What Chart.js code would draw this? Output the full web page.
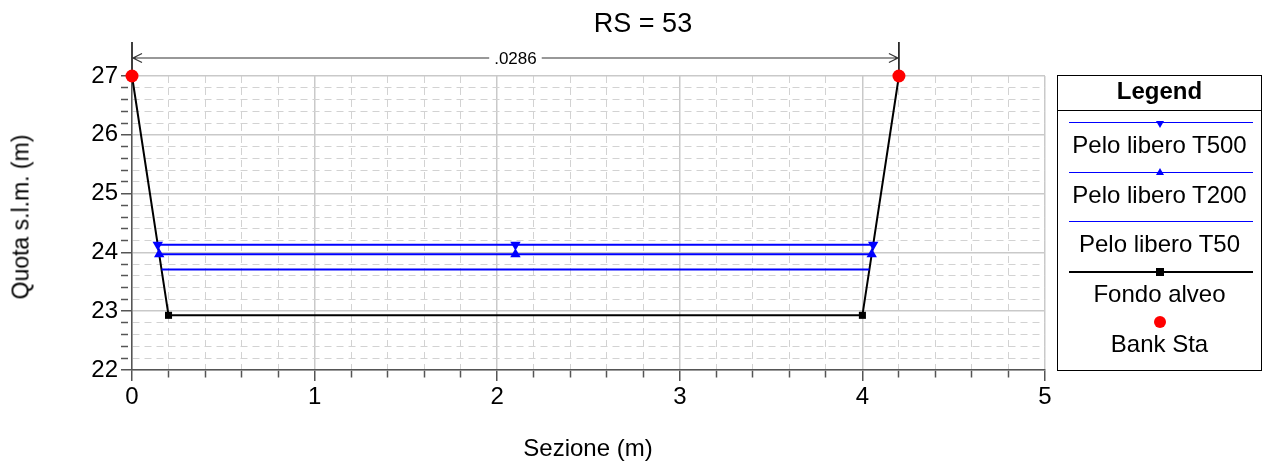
<!DOCTYPE html>
<html>
<head>
<meta charset="utf-8">
<script src="https://cdn.jsdelivr.net/npm/chart.js@4/dist/chart.umd.min.js"></script>
<style>
html,body{margin:0;padding:0;background:#fff;}
#wrap{position:relative;width:1265px;height:467px;font-family:"Liberation Sans",Arial,sans-serif;color:#000;overflow:hidden;}
#c{position:absolute;left:0;top:0;}
.t{position:absolute;white-space:nowrap;line-height:1;}
#title{left:643px;top:23px;transform:translate(-50%,-50%);font-size:27px;}
#xt{left:588px;top:448px;transform:translate(-50%,-50%);font-size:24px;}
#yt{left:21px;top:217px;transform:translate(-50%,-50%) rotate(-90deg);font-size:23px;}
#legend{position:absolute;left:1057px;top:75px;width:205px;height:296px;box-sizing:border-box;border:1px solid #000;}
#legend .lt{position:absolute;left:0;right:0;text-align:center;font-weight:bold;font-size:24px;line-height:1;}
#legend .sep{position:absolute;left:0;right:0;height:0;border-top:1px solid #000;}
#legend .ln{position:absolute;left:11px;width:184px;}
#legend .mk{position:absolute;}
#legend .tx{position:absolute;left:0;right:0;text-align:center;font-size:24px;line-height:1;white-space:nowrap;}
</style>
</head>
<body>
<div id="wrap">
  <canvas id="c" width="1265" height="467"></canvas>
  <div class="t" id="title">RS = 53</div>
  <div class="t" id="xt">Sezione (m)</div>
  <div class="t" id="yt">Quota s.l.m. (m)</div>
  <div id="legend"></div>
</div>
<script>
// ---- data ----
const chartTitle = 'RS = 53';
const xTitle = 'Sezione (m)';
const yTitle = 'Quota s.l.m. (m)';
const xMajorTicks = [0, 1, 2, 3, 4, 5];
const yMajorTicks = [22, 23, 24, 25, 26, 27];
const minorPerMajor = 5;
const seriesNames = ['Pelo libero T500', 'Pelo libero T200', 'Pelo libero T50', 'Fondo alveo', 'Bank Sta'];
const t500X = [0.141, 2.1, 4.059];
const t500Y = [24.13, 24.13, 24.13];
const t200X = [0.149, 2.1, 4.051];
const t200Y = [23.97, 23.97, 23.97];
const t50X = [0.162, 4.038];
const t50Y = [23.71, 23.71];
const groundX = [0, 0.2, 4.0, 4.2];
const groundY = [27, 22.93, 22.93, 27];
const groundMarker = [false, true, true, false];
const bankX = [0, 4.2];
const bankY = [27, 27];
const dimLabel = '.0286';

// ---- helpers ----
const FONT = '"Liberation Sans", Arial, sans-serif';
function pts(xs, ys) { return xs.map((x, i) => ({x: x, y: ys[i]})); }
function withMinor(major) {
  const out = [];
  for (let i = 0; i < major.length - 1; i++) {
    const a = major[i], b = major[i + 1];
    for (let k = 0; k < minorPerMajor; k++) out.push(+(a + (b - a) * k / minorPerMajor).toFixed(6));
  }
  out.push(major[major.length - 1]);
  return out;
}
const xTickValues = withMinor(xMajorTicks);
const yTickValues = withMinor(yMajorTicks);
function isMajor(v, majors) { return majors.some(m => Math.abs(m - v) < 1e-6); }

const majorGrid = '#c9c9c9';
const minorGrid = '#d2d2d2';
const axisColor = '#555555';

function scaleOpts(majors, values, min, max, isX) {
  const maj = c => !!(c.tick && isMajor(c.tick.value, majors));
  return {
    type: 'linear',
    min: min, max: max,
    afterBuildTicks: s => { s.ticks = values.map(v => ({value: v})); },
    afterFit: s => { if (isX) s.height = 97; else s.width = 132; },
    grid: {
      color: c => maj(c) ? majorGrid : minorGrid,
      lineWidth: c => maj(c) ? 1.5 : 1,
      tickColor: axisColor,
      tickWidth: 1.5,
      tickLength: 11,
      tickBorderDash: c => maj(c) ? [] : [7, 40],
      drawTicks: true
    },
    border: {
      display: true, color: axisColor, width: 1.5,
      dash: c => (c.tick && !isMajor(c.tick.value, majors)) ? [7, 5] : []
    },
    ticks: {
      autoSkip: false, maxRotation: 0, minRotation: 0,
      padding: isX ? 2 : 3,
      color: '#000',
      font: {family: FONT, size: 24},
      callback: v => isMajor(v, majors) ? String(Math.round(v)) : ''
    }
  };
}

const dimPlugin = {
  id: 'dimension',
  beforeDatasetsDraw(chart) {
    const ctx = chart.ctx, xs = chart.scales.x, ys = chart.scales.y;
    const x0 = xs.getPixelForValue(bankX[0]);
    const x1 = xs.getPixelForValue(bankX[1]);
    const yb = ys.getPixelForValue(bankY[0]);
    const top = chart.chartArea.top;
    const yd = top - 18, yt = top - 34;
    ctx.save();
    ctx.strokeStyle = '#000'; ctx.lineWidth = 1.5;
    ctx.beginPath();
    ctx.moveTo(x0, yt); ctx.lineTo(x0, yb);
    ctx.moveTo(x1, yt); ctx.lineTo(x1, yb);
    ctx.stroke();
    ctx.font = '17px ' + FONT;
    const tw = ctx.measureText(dimLabel).width;
    const cx = (x0 + x1) / 2;
    ctx.strokeStyle = '#333'; ctx.lineWidth = 1.2;
    ctx.beginPath();
    ctx.moveTo(x0, yd); ctx.lineTo(cx - tw / 2 - 5, yd);
    ctx.moveTo(cx + tw / 2 + 5, yd); ctx.lineTo(x1, yd);
    ctx.moveTo(x0 + 10, yd - 4.5); ctx.lineTo(x0 + 1, yd); ctx.lineTo(x0 + 10, yd + 4.5);
    ctx.moveTo(x1 - 10, yd - 4.5); ctx.lineTo(x1 - 1, yd); ctx.lineTo(x1 - 10, yd + 4.5);
    ctx.stroke();
    ctx.fillStyle = '#000'; ctx.textAlign = 'center'; ctx.textBaseline = 'middle';
    ctx.fillText(dimLabel, cx, yd + 1);
    ctx.restore();
  }
};

const datasets = [
  {label: seriesNames[0], data: pts(t500X, t500Y), showLine: true, borderColor: '#0000ff', backgroundColor: '#0000ff',
   borderWidth: 2, pointStyle: 'triangle', pointRotation: 180, pointRadius: 6, pointBorderWidth: 0, order: 1, clip: false},
  {label: seriesNames[1], data: pts(t200X, t200Y), showLine: true, borderColor: '#0000ff', backgroundColor: '#0000ff',
   borderWidth: 2, pointStyle: 'triangle', pointRotation: 0, pointRadius: 6, pointBorderWidth: 0, order: 2, clip: false},
  {label: seriesNames[2], data: pts(t50X, t50Y), showLine: true, borderColor: '#0000ff', backgroundColor: '#0000ff',
   borderWidth: 2, pointRadius: 0, order: 3, clip: false},
  {label: seriesNames[3], data: pts(groundX, groundY), showLine: true, borderColor: '#000', backgroundColor: '#000',
   borderWidth: 2, pointStyle: 'rect', pointRadius: groundMarker.map(m => m ? 5 : 0), pointBorderWidth: 0, order: 4, clip: false},
  {label: seriesNames[4], data: pts(bankX, bankY), showLine: false, borderColor: '#ff0000', backgroundColor: '#ff0000',
   pointStyle: 'circle', pointRadius: 6.5, pointBorderWidth: 0, order: 0, clip: false}
];

new Chart(document.getElementById('c'), {
  type: 'scatter',
  data: {datasets: datasets},
  options: {
    responsive: false,
    animation: false,
    devicePixelRatio: 1,
    layout: {padding: {left: 0, right: 220, top: 76, bottom: 0}},
    plugins: {legend: {display: false}, tooltip: {enabled: false}, title: {display: false}},
    scales: {
      x: scaleOpts(xMajorTicks, xTickValues, 0, 5, true),
      y: scaleOpts(yMajorTicks, yTickValues, 22, 27, false)
    }
  },
  plugins: [dimPlugin]
});

document.getElementById('title').textContent = chartTitle;
document.getElementById('xt').textContent = xTitle;
document.getElementById('yt').textContent = yTitle;

// ---- HTML legend built from datasets ----
(function buildLegend() {
  const lg = document.getElementById('legend');
  const h = document.createElement('div'); h.className = 'lt'; h.style.top = '3px'; h.textContent = 'Legend'; lg.appendChild(h);
  const sep = document.createElement('div'); sep.className = 'sep'; sep.style.top = '34px'; lg.appendChild(sep);
  const lineY = [47, 97, 146, 196, 246];
  datasets.forEach((ds, i) => {
    const ly = lineY[i];
    if (ds.showLine) {
      const ln = document.createElement('div'); ln.className = 'ln';
      ln.style.top = (ly - (ds.borderColor === '#000' ? 1 : 0.75)) + 'px';
      ln.style.borderTop = (ds.borderColor === '#000' ? 2 : 1.5) + 'px solid ' + ds.borderColor;
      lg.appendChild(ln);
    }
    const mk = document.createElement('div'); mk.className = 'mk';
    const cx = 102;
    if (ds.pointStyle === 'triangle') {
      const down = ds.pointRotation === 180;
      mk.style.width = '0'; mk.style.height = '0';
      mk.style.borderLeft = '4px solid transparent'; mk.style.borderRight = '4px solid transparent';
      if (down) { mk.style.borderTop = '7px solid ' + ds.borderColor; mk.style.left = (cx - 4) + 'px'; mk.style.top = (ly - 2) + 'px'; }
      else { mk.style.borderBottom = '7px solid ' + ds.borderColor; mk.style.left = (cx - 4) + 'px'; mk.style.top = (ly - 5) + 'px'; }
      lg.appendChild(mk);
    } else if (ds.pointStyle === 'rect') {
      mk.style.width = '8px'; mk.style.height = '8px'; mk.style.background = ds.backgroundColor;
      mk.style.left = (cx - 4) + 'px'; mk.style.top = (ly - 4) + 'px';
      lg.appendChild(mk);
    } else if (ds.pointStyle === 'circle') {
      mk.style.width = '12px'; mk.style.height = '12px'; mk.style.borderRadius = '50%'; mk.style.background = ds.backgroundColor;
      mk.style.left = (cx - 6) + 'px'; mk.style.top = (ly - 6) + 'px';
      lg.appendChild(mk);
    }
    const tx = document.createElement('div'); tx.className = 'tx';
    tx.style.top = (ly + 22 - 12) + 'px';
    tx.textContent = ds.label;
    lg.appendChild(tx);
  });
})();
</script>
</body>
</html>
